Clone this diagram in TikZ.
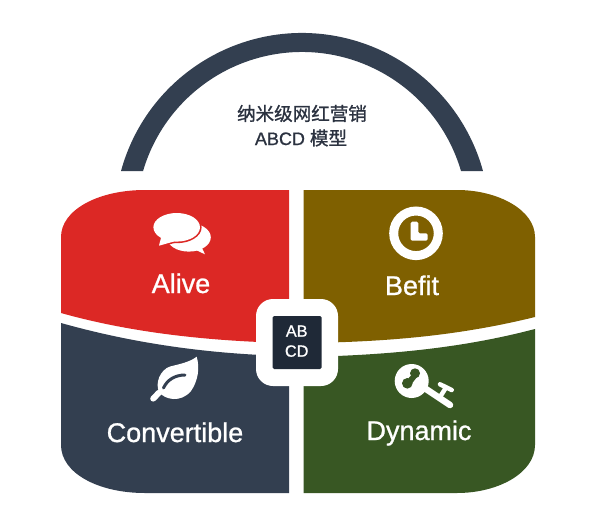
\documentclass[tikz,border=0pt]{standalone}
\usepackage{fontspec}
\setmainfont{Liberation Sans}[FakeBold=0.9]
\newfontfamily\cjkfont{Noto Sans CJK SC}[FakeBold=1.1,Scale=1.03]
\definecolor{navyc}{HTML}{333F50}
\definecolor{redc}{HTML}{DC2825}
\definecolor{brownc}{HTML}{7F6000}
\definecolor{greenc}{HTML}{385723}
\definecolor{corec}{HTML}{1F2937}
\definecolor{titlec}{HTML}{2B3240}
\tikzset{
  biglabel/.style={text=white,font=\fontsize{27}{30}\selectfont,anchor=base,inner sep=0pt},
  corelabel/.style={text=white,font=\fontsize{16.3}{18}\selectfont,anchor=base,inner sep=0pt},
  titlelabel/.style={text=titlec,font=\fontsize{18}{20}\selectfont,anchor=base,inner sep=0pt}
}
\begin{document}
\begin{tikzpicture}[x=1pt,y=-1pt]
\useasboundingbox (0,0) rectangle (600,517);
\fill[white] (0,0) rectangle (600,517);
% handle
\fill[navyc] (121,171) arc[start angle=164.65,end angle=15.35,radius=187.7pt] -- (461,171)
  arc[start angle=16.37,end angle=163.63,radius=165.7pt] -- cycle;
% quadrants
\fill[redc] (61,237) .. controls (61,210) and (98,190) .. (145,190) -- (289,190) -- (289,343)
  .. controls (200,341) and (125,331) .. (61,313) -- cycle;
\fill[brownc] (535,237) .. controls (535,210) and (498,190) .. (457,190) -- (303.5,190) -- (303.5,343)
  .. controls (400,342) and (470,333) .. (535,317) -- cycle;
\fill[navyc] (61,445) .. controls (61,473) and (98,493) .. (145,493) -- (289,493) -- (289,356)
  .. controls (200,354) and (125,341) .. (61,323) -- cycle;
\fill[greenc] (535,445) .. controls (535,473) and (498,493) .. (457,493) -- (303.5,493) -- (303.5,357)
  .. controls (400,355) and (470,346) .. (535,329) -- cycle;
% centre
\node[fill=white,rounded corners=17pt,minimum width=82pt,minimum height=87pt,inner sep=0pt] (hub) at (297,342.5) {};
\node[fill=corec,rounded corners=1.5pt,minimum width=49pt,minimum height=53pt,inner sep=0pt] (core) at (297.2,342.5) {};
\node[corelabel] (ab) at (296.7,336.7) {AB};
\node[corelabel] (cd) at (296.7,356.7) {CD};
% labels
\node[biglabel] (alive) at (181,293) {Alive};
\node[biglabel] (befit) at (412,295) {Befit};
\node[biglabel] (convertible) at (175,442) {Convertible};
\node[biglabel] (dynamic) at (419,440) {Dynamic};
\node[titlelabel] (title1) at (302,120.5) {\cjkfont 纳米级网红营销};
\node[titlelabel] (title2) at (301,145) {ABCD {\cjkfont 模型}};
% speech bubbles
\fill[white] (188.8,237.3) ellipse[x radius=22,y radius=14.3];
\fill[white] (191.7,248) -- (205,254.3) -- (200,244) -- cycle;
\draw[redc,line width=3.2pt] (161.7,235) -- (159,245.7) -- (175,241.2);
\draw[redc,line width=3.2pt] (176.7,227.3) ellipse[x radius=23.3,y radius=14.3];
\fill[redc] (176.7,227.3) ellipse[x radius=23.3,y radius=14.3];
\fill[white] (176.7,227.3) ellipse[x radius=23.3,y radius=14.3];
\fill[white] (161.7,235) -- (159,245.7) -- (175,241.2) -- cycle;
% clock
\draw[white,line width=9pt] (416,233.3) circle[radius=22.3pt];
\fill[white,rounded corners=1.5pt] (410.7,221.7) -- (418.3,221.7) -- (418.3,233.3) -- (427.7,233.3) -- (427.7,240.7) -- (410.7,240.7) -- cycle;
% leaf
\fill[white] (196.7,356.7) .. controls (190,362) and (180,364) .. (170,366.5)
  .. controls (160,370) and (155,383) .. (159,392)
  .. controls (165,400) and (181,403) .. (191,391)
  .. controls (198,381) and (200,368) .. (196.7,356.7) -- cycle;
\draw[white,line width=6pt,line cap=round] (153.2,398.6) -- (159,392.7);
\draw[navyc,line width=3pt,line cap=round] (163.5,388) .. controls (167,380) and (175,375) .. (185,375);
% key
\fill[white] (411.7,381) circle[radius=17pt];
\fill[greenc] (415,373.3) circle[radius=5pt] (407.3,383.3) circle[radius=5.3pt];
\fill[greenc] (412.5,374) -- (417,377) -- (410,386) -- (405,382) -- cycle;
\draw[white,line width=6.5pt,line cap=round] (423,387) -- (450,405);
\draw[white,line width=4.5pt] (440,397) -- (445.7,388);
\draw[white,line width=4.5pt,line cap=round] (440,384.3) -- (451.7,390);
\end{tikzpicture}
\end{document}
